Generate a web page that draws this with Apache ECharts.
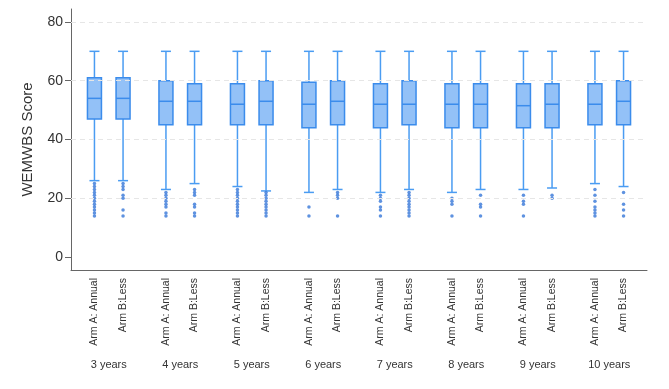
<!DOCTYPE html>
<html>
<head>
<meta charset="utf-8">
<script src="https://cdn.jsdelivr.net/npm/echarts@6/dist/echarts.min.js"></script>
<style>
  html, body { margin: 0; padding: 0; background: #fff; }
  #chart { width: 669px; height: 389px; }
</style>
</head>
<body>
<div id="chart"></div>
<script>
// groups and arms (box order: 3y A, 3y B, 4y A, ...)
const groups = ['3 years', '4 years', '5 years', '6 years', '7 years', '8 years', '9 years', '10 years']
const arms = ['Arm A: Annual', 'Arm B:Less']

// box statistics
const whiskLow = [26, 26, 23, 25, 24, 22.5, 22, 23, 22, 23, 22, 23, 23, 23.5, 25, 24]
const q1 = [47, 47, 45, 45, 45, 45, 44, 45, 44, 45, 44, 44, 44, 44, 45, 45]
const median = [54, 54, 53, 53, 52, 53, 52, 53, 52, 52, 52, 52, 51.5, 52, 52, 53]
const q3 = [61, 61, 60, 59, 59, 60, 59.5, 60, 59, 60, 59, 59, 59, 59, 59, 60]
const whiskHigh = [70, 70, 70, 70, 70, 70, 70, 70, 70, 70, 70, 70, 70, 70, 70, 70]

// outside values per box
const outliers = [
  [25, 24, 23, 22, 21, 20, 19, 18, 17, 16, 15, 14],
  [25, 24, 23, 21, 20, 16, 14],
  [22, 21, 20, 19, 18, 17, 15, 14],
  [23, 22, 21, 18, 17, 15, 14],
  [23, 22, 21, 20, 19, 18, 17, 16, 15, 14],
  [22, 21, 20, 19, 18, 17, 16, 15, 14],
  [17, 14],
  [22, 21, 20, 14],
  [21, 20, 19, 17, 16, 14],
  [22, 21, 20, 19, 18, 17, 16, 15, 14],
  [20, 19, 18, 14],
  [21, 18, 17, 14],
  [21, 19, 18, 14],
  [21, 20],
  [23, 21, 19, 17, 16, 15, 14],
  [22, 18, 16, 14]
]

const yTicks = [0, 20, 40, 60, 80]
const gridValues = [20, 40, 60, 80]

const FONT = 'Liberation Sans, Arial, sans-serif'
const BOX_FILL = '#93c1f7'
const BOX_LINE = '#3b8cec'
const WHISK = '#4a9cf2'
const DOT = '#3677d8'

// x position of each box: pairs within a group, wider gap between groups
const boxX = q1.map((_, i) => Math.floor(i / 2) * 2.5 + (i % 2))
const groupX = groups.map((_, g) => g * 2.5 + 0.5)
const labelAt = (list, xs, v) => {
  const k = xs.findIndex(x => Math.abs(x - v) < 1e-6)
  return k < 0 ? '' : list[k]
}

const boxData = boxX.map((x, i) => [x, whiskLow[i], q1[i], median[i], q3[i], whiskHigh[i]])
const dotData = []
outliers.forEach((list, i) => list.forEach(v => dotData.push([boxX[i], v])))

const X_MIN = -0.82
const X_MAX = 19.32

const chart = echarts.init(document.getElementById('chart'))
chart.setOption({
  animation: false,
  grid: { left: 71, right: 22, top: 9, bottom: 119, containLabel: false },
  xAxis: [
    {
      type: 'value', min: X_MIN, max: X_MAX, position: 'bottom',
      axisLine: { show: true, onZero: false, lineStyle: { color: '#666', width: 1 } },
      axisTick: { show: false },
      splitLine: { show: false },
      axisLabel: {
        customValues: boxX,
        rotate: 90, margin: 8,
        fontFamily: FONT, fontSize: 10.5, color: '#333',
        formatter: v => labelAt(boxX.map((_, i) => arms[i % 2]), boxX, v)
      }
    },
    {
      type: 'value', min: X_MIN, max: X_MAX, position: 'bottom',
      axisLine: { show: false, onZero: false }, axisTick: { show: false }, splitLine: { show: false },
      axisLabel: {
        customValues: groupX, margin: 89,
        fontFamily: FONT, fontSize: 11, color: '#333',
        formatter: v => labelAt(groups, groupX, v)
      }
    }
  ],
  yAxis: {
    type: 'value', min: -4.4, max: 84.4,
    name: 'WEMWBS Score', nameLocation: 'middle', nameGap: 36,
    nameTextStyle: { fontFamily: FONT, fontSize: 15, color: '#333' },
    axisLine: { show: true, onZero: false, lineStyle: { color: '#666', width: 1 } },
    axisTick: { show: true, customValues: yTicks, length: 6, lineStyle: { color: '#666' } },
    axisLabel: { customValues: yTicks, margin: 8, fontFamily: FONT, fontSize: 14, color: '#333' },
    splitLine: { show: false }
  },
  series: [
    {
      type: 'custom',
      xAxisIndex: 0,
      data: boxData,
      encode: { x: 0, y: [1, 2, 3, 4, 5] },
      markLine: {
        silent: true, symbol: 'none', label: { show: false },
        lineStyle: { color: '#e6e6e6', type: [5, 4], width: 1 },
        data: gridValues.map(v => ({ yAxis: v }))
      },
      renderItem: (params, api) => {
        const x = api.value(0)
        const lo = api.coord([x, api.value(1)])
        const b1 = api.coord([x, api.value(2)])
        const md = api.coord([x, api.value(3)])
        const b3 = api.coord([x, api.value(4)])
        const hi = api.coord([x, api.value(5)])
        const cx = lo[0]
        const bw = 14, cw = 10
        const line = (x1, y1, x2, y2, color) => ({
          type: 'line', shape: { x1, y1, x2, y2 },
          style: { stroke: color, lineWidth: 1.5 }
        })
        return {
          type: 'group',
          children: [
            line(cx, lo[1], cx, b1[1], WHISK),
            line(cx, hi[1], cx, b3[1], WHISK),
            line(cx - cw / 2, lo[1], cx + cw / 2, lo[1], WHISK),
            line(cx - cw / 2, hi[1], cx + cw / 2, hi[1], WHISK),
            {
              type: 'rect',
              shape: { x: cx - bw / 2, y: b3[1], width: bw, height: b1[1] - b3[1] },
              style: { fill: BOX_FILL, stroke: BOX_LINE, lineWidth: 1.5 }
            },
            line(cx - bw / 2, md[1], cx + bw / 2, md[1], BOX_LINE)
          ]
        }
      }
    },
    {
      type: 'scatter',
      xAxisIndex: 0,
      data: dotData,
      symbol: 'circle',
      symbolSize: 3.5,
      itemStyle: { color: DOT },
      silent: true
    }
  ]
})
</script>
</body>
</html>
